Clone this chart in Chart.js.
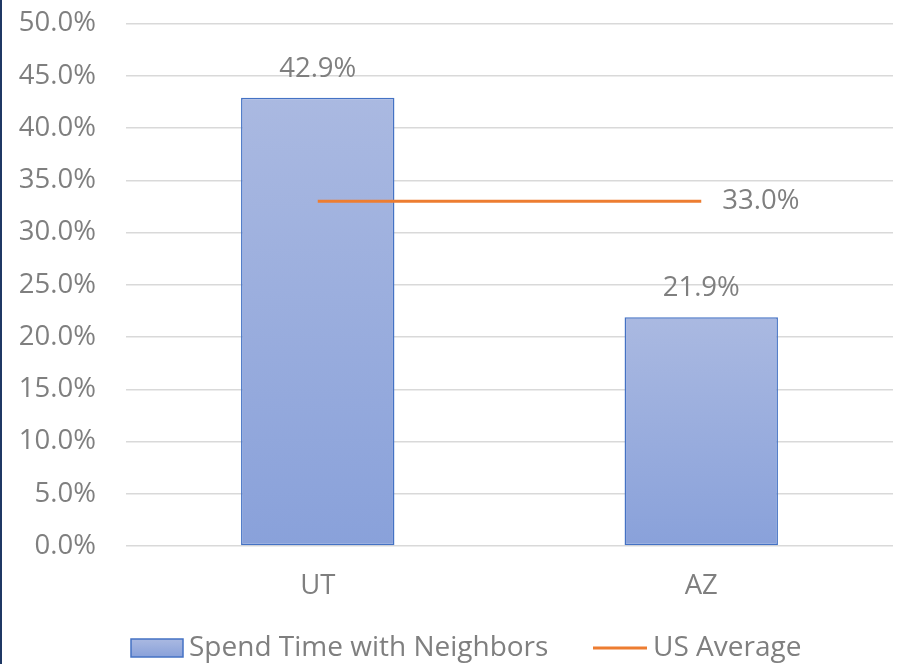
<!DOCTYPE html>
<html>
<head>
<meta charset="utf-8">
<script src="https://cdn.jsdelivr.net/npm/chart.js@4.4.0/dist/chart.umd.min.js"></script>
<style>
  html, body { margin: 0; padding: 0; background: #ffffff; overflow: hidden; }
  #wrap { width: 903px; height: 664px; position: relative; overflow: hidden; }
  #c { position: absolute; left: 0; top: -23px; }
</style>
</head>
<body>
<div id="wrap"><canvas id="c" width="903" height="687"></canvas></div>
<script>
const categories = ['UT', 'AZ'];
const neighborValues = [42.9, 21.9];
const usAverageValues = [33.0, 33.0];
const seriesNames = ['Spend Time with Neighbors', 'US Average'];
const yTickMin = 0;
const yTickMax = 50;
const yTickStep = 5;

const FONT = '"Open Sans", sans-serif';
const GRAY = '#7f7f7f';
const FS = 27.5;
const LFS = 28;

function barGradient(ctx) {
  const chart = ctx.chart;
  const y = chart.scales.y;
  if (!chart.chartArea || !y || ctx.type !== 'data') return '#9aabdd';
  const v = ctx.parsed ? ctx.parsed.y : neighborValues[ctx.dataIndex];
  const top = y.getPixelForValue(v);
  const base = y.getPixelForValue(0);
  if (!isFinite(top) || !isFinite(base) || top === base) return '#9aabdd';
  const g = chart.ctx.createLinearGradient(0, top, 0, base);
  g.addColorStop(0, '#aab9e1');
  g.addColorStop(1, '#89a1da');
  return g;
}

const labelPlugin = {
  id: 'valueLabels',
  afterDatasetsDraw(chart) {
    const ctx = chart.ctx;
    ctx.save();
    ctx.font = FS + 'px ' + FONT;
    ctx.fillStyle = GRAY;
    ctx.textBaseline = 'middle';
    const barMeta = chart.getDatasetMeta(0);
    barMeta.data.forEach((el, i) => {
      ctx.textAlign = 'center';
      ctx.fillText(neighborValues[i].toFixed(1) + '%', el.x, el.y - 29);
    });
    const lineMeta = chart.getDatasetMeta(1);
    const last = lineMeta.data.length - 1;
    const pt = lineMeta.data[last];
    ctx.textAlign = 'left';
    ctx.fillText(usAverageValues[last].toFixed(1) + '%', pt.x + 21, pt.y);
    ctx.restore();
  },
  afterDraw(chart) {
    const ctx = chart.ctx;
    ctx.save();
    // left frame edge
    ctx.fillStyle = '#1f3864';
    ctx.fillRect(0, 0, 2, chart.height);
    // legend
    const cy = chart.height - 16;
    ctx.font = LFS + 'px ' + FONT;
    ctx.textBaseline = 'middle';
    ctx.textAlign = 'left';
    const g = ctx.createLinearGradient(0, cy - 9, 0, cy + 9);
    g.addColorStop(0, '#aab9e1');
    g.addColorStop(1, '#89a1da');
    ctx.fillStyle = g;
    ctx.fillRect(131, cy - 9, 52, 18);
    ctx.strokeStyle = '#4472c4';
    ctx.lineWidth = 1.5;
    ctx.strokeRect(131, cy - 9, 52, 18);
    ctx.fillStyle = GRAY;
    ctx.fillText(seriesNames[0], 189, cy);
    ctx.strokeStyle = '#ed7d31';
    ctx.lineWidth = 3;
    ctx.beginPath();
    ctx.moveTo(593, cy);
    ctx.lineTo(647, cy);
    ctx.stroke();
    ctx.fillStyle = GRAY;
    ctx.fillText(seriesNames[1], 653, cy);
    ctx.restore();
  }
};

new Chart(document.getElementById('c'), {
  data: {
    labels: categories,
    datasets: [
      {
        type: 'bar',
        label: seriesNames[0],
        data: neighborValues,
        backgroundColor: barGradient,
        borderColor: '#4472c4',
        borderWidth: 1.5,
        borderSkipped: false,
        categoryPercentage: 1.0,
        barPercentage: 0.4,
        order: 2
      },
      {
        type: 'line',
        label: seriesNames[1],
        data: usAverageValues,
        borderColor: '#ed7d31',
        backgroundColor: '#ed7d31',
        borderWidth: 3,
        pointRadius: 0,
        pointHoverRadius: 0,
        fill: false,
        order: 1
      }
    ]
  },
  options: {
    responsive: false,
    animation: false,
    devicePixelRatio: 1,
    layout: { padding: { left: 0, right: 10, top: 0, bottom: 37 } },
    plugins: {
      tooltip: { enabled: false },
      legend: { display: false }
    },
    scales: {
      x: {
        grid: { display: false, drawTicks: false },
        border: { display: false },
        ticks: { font: { family: FONT, size: FS }, color: GRAY, padding: 24 }
      },
      y: {
        min: yTickMin,
        max: yTickMax,
        grid: { color: '#d9d9d9', lineWidth: 1.5, drawTicks: false },
        border: { display: false },
        afterFit(scale) { scale.width = 126; },
        ticks: {
          stepSize: yTickStep,
          padding: 30,
          font: { family: FONT, size: FS },
          color: GRAY,
          callback: v => Number(v).toFixed(1) + '%'
        }
      }
    }
  },
  plugins: [labelPlugin]
});
</script>
</body>
</html>
